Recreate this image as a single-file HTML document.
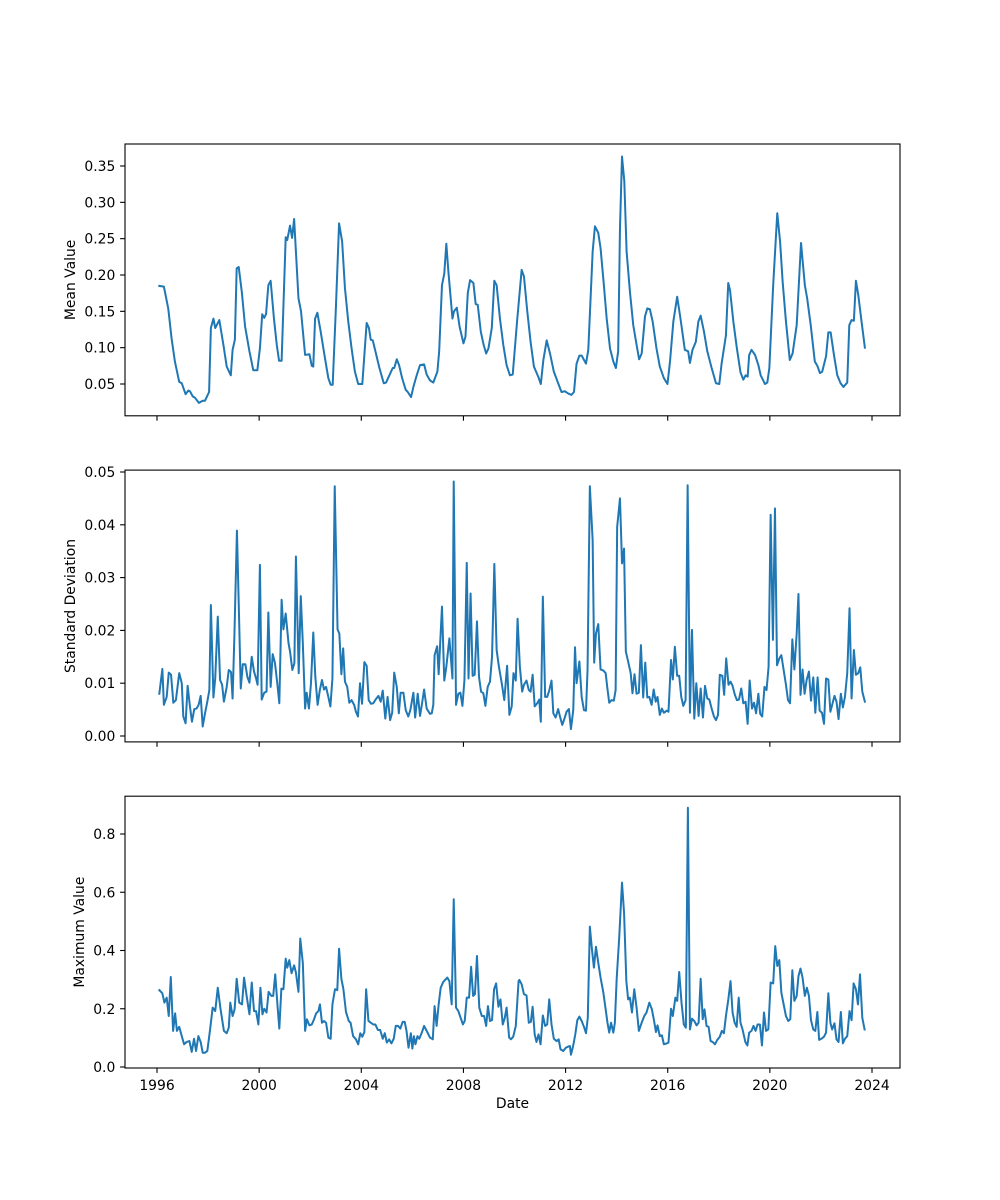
<!DOCTYPE html>
<html><head><meta charset="utf-8"><style>
body{margin:0;background:#fff}
svg{display:block;font-family:"DejaVu Sans","Liberation Sans",sans-serif}
</style></head><body>
<svg id="fig" width="1000" height="1200" viewBox="0 0 1000 1200"></svg>
<script>
const xTickYears=[1996,2000,2004,2008,2012,2016,2020,2024];
const meanTicks=[0.05,0.10,0.15,0.20,0.25,0.30,0.35];
const stdTicks=[0.00,0.01,0.02,0.03,0.04,0.05];
const maxTicks=[0.0,0.2,0.4,0.6,0.8];

const meanDates=[1996.09,1996.27,1996.44,1996.57,1996.7,1996.87,1996.97,1997.12,1997.23,1997.29,1997.4,1997.49,1997.64,1997.79,1997.88,1998.04,1998.11,1998.21,1998.28,1998.44,1998.6,1998.73,1998.89,1998.96,1999.05,1999.12,1999.2,1999.32,1999.45,1999.62,1999.77,1999.93,2000.03,2000.12,2000.2,2000.27,2000.36,2000.45,2000.58,2000.69,2000.78,2000.88,2001.04,2001.1,2001.21,2001.29,2001.37,2001.54,2001.64,2001.8,2001.97,2002.06,2002.12,2002.19,2002.28,2002.41,2002.58,2002.71,2002.8,2002.88,2003.01,2003.13,2003.25,2003.36,2003.49,2003.62,2003.75,2003.88,2004.04,2004.21,2004.3,2004.37,2004.45,2004.54,2004.71,2004.88,2004.97,2005.1,2005.23,2005.29,2005.39,2005.48,2005.6,2005.74,2005.82,2005.95,2006.04,2006.17,2006.3,2006.46,2006.56,2006.69,2006.82,2006.98,2007.05,2007.16,2007.25,2007.33,2007.41,2007.57,2007.63,2007.74,2007.85,2008.0,2008.08,2008.17,2008.26,2008.39,2008.48,2008.56,2008.68,2008.79,2008.89,2008.98,2009.11,2009.21,2009.3,2009.43,2009.56,2009.69,2009.82,2009.93,2010.11,2010.28,2010.37,2010.5,2010.63,2010.76,2010.93,2011.03,2011.13,2011.26,2011.39,2011.54,2011.71,2011.84,2011.97,2012.1,2012.23,2012.33,2012.43,2012.54,2012.63,2012.8,2012.89,2013.06,2013.15,2013.28,2013.37,2013.5,2013.61,2013.74,2013.87,2013.97,2014.06,2014.13,2014.21,2014.3,2014.39,2014.52,2014.65,2014.78,2014.88,2014.98,2015.11,2015.2,2015.3,2015.41,2015.56,2015.69,2015.85,2015.99,2016.09,2016.22,2016.37,2016.5,2016.67,2016.8,2016.87,2016.97,2017.1,2017.2,2017.29,2017.42,2017.55,2017.72,2017.89,2018.02,2018.11,2018.28,2018.37,2018.44,2018.57,2018.7,2018.85,2018.96,2019.05,2019.13,2019.19,2019.28,2019.42,2019.55,2019.64,2019.81,2019.9,2019.98,2020.13,2020.29,2020.4,2020.5,2020.63,2020.78,2020.89,2021.05,2021.22,2021.37,2021.46,2021.6,2021.76,2021.86,2021.96,2022.05,2022.2,2022.29,2022.38,2022.51,2022.64,2022.77,2022.88,2023.03,2023.11,2023.2,2023.29,2023.37,2023.46,2023.59,2023.72];
const meanValues=[0.185,0.184,0.154,0.113,0.081,0.053,0.051,0.036,0.041,0.040,0.033,0.031,0.024,0.027,0.027,0.039,0.127,0.140,0.127,0.138,0.104,0.074,0.062,0.097,0.111,0.209,0.211,0.177,0.129,0.095,0.069,0.069,0.099,0.146,0.141,0.146,0.186,0.192,0.140,0.104,0.082,0.082,0.252,0.248,0.268,0.251,0.277,0.168,0.150,0.090,0.091,0.075,0.074,0.140,0.148,0.122,0.085,0.058,0.049,0.049,0.159,0.271,0.246,0.182,0.136,0.099,0.067,0.050,0.050,0.134,0.127,0.111,0.110,0.097,0.072,0.051,0.052,0.062,0.072,0.072,0.084,0.076,0.058,0.042,0.039,0.032,0.046,0.062,0.076,0.077,0.063,0.055,0.052,0.067,0.095,0.186,0.202,0.243,0.205,0.140,0.150,0.155,0.129,0.106,0.115,0.175,0.193,0.189,0.160,0.159,0.122,0.104,0.092,0.099,0.127,0.192,0.186,0.140,0.104,0.076,0.062,0.063,0.140,0.207,0.198,0.150,0.108,0.074,0.060,0.050,0.083,0.110,0.092,0.067,0.051,0.039,0.040,0.037,0.035,0.039,0.078,0.089,0.089,0.078,0.097,0.232,0.267,0.258,0.237,0.186,0.140,0.099,0.081,0.072,0.095,0.264,0.363,0.329,0.232,0.177,0.131,0.104,0.084,0.092,0.143,0.154,0.153,0.136,0.099,0.074,0.058,0.050,0.081,0.136,0.170,0.140,0.097,0.095,0.079,0.097,0.108,0.136,0.144,0.122,0.095,0.072,0.051,0.050,0.078,0.117,0.189,0.179,0.136,0.101,0.066,0.056,0.062,0.060,0.090,0.097,0.090,0.076,0.062,0.050,0.052,0.072,0.186,0.285,0.246,0.191,0.136,0.083,0.092,0.131,0.244,0.186,0.168,0.131,0.081,0.075,0.065,0.067,0.088,0.121,0.121,0.090,0.062,0.051,0.046,0.052,0.131,0.138,0.137,0.192,0.173,0.136,0.100];

const stdDates=[1996.09,1996.21,1996.27,1996.38,1996.46,1996.55,1996.64,1996.74,1996.87,1996.97,1997.03,1997.12,1997.2,1997.29,1997.37,1997.46,1997.55,1997.63,1997.71,1997.79,1997.88,1997.97,1998.05,1998.11,1998.21,1998.28,1998.38,1998.47,1998.55,1998.62,1998.73,1998.81,1998.9,1998.96,1999.03,1999.13,1999.2,1999.28,1999.36,1999.46,1999.54,1999.62,1999.71,1999.8,1999.88,1999.94,2000.03,2000.1,2000.2,2000.29,2000.36,2000.45,2000.53,2000.62,2000.71,2000.79,2000.88,2000.95,2001.04,2001.15,2001.21,2001.3,2001.38,2001.44,2001.55,2001.63,2001.71,2001.8,2001.86,2001.95,2002.03,2002.12,2002.2,2002.29,2002.38,2002.46,2002.54,2002.62,2002.71,2002.79,2002.87,2002.96,2003.07,2003.14,2003.22,2003.29,2003.36,2003.45,2003.53,2003.62,2003.72,2003.79,2003.87,2003.95,2004.03,2004.12,2004.21,2004.29,2004.38,2004.47,2004.56,2004.67,2004.76,2004.84,2004.94,2005.03,2005.13,2005.21,2005.29,2005.39,2005.47,2005.54,2005.65,2005.74,2005.84,2005.92,2006.04,2006.11,2006.21,2006.3,2006.38,2006.46,2006.56,2006.69,2006.76,2006.82,2006.87,2006.97,2007.03,2007.16,2007.25,2007.33,2007.45,2007.57,2007.62,2007.71,2007.8,2007.88,2007.96,2008.04,2008.13,2008.2,2008.28,2008.36,2008.44,2008.53,2008.61,2008.69,2008.78,2008.86,2008.95,2009.04,2009.12,2009.21,2009.3,2009.39,2009.5,2009.6,2009.71,2009.8,2009.89,2009.96,2010.05,2010.12,2010.21,2010.3,2010.37,2010.47,2010.56,2010.63,2010.71,2010.79,2010.89,2010.97,2011.03,2011.11,2011.2,2011.28,2011.36,2011.45,2011.52,2011.61,2011.71,2011.78,2011.87,2011.95,2012.04,2012.13,2012.21,2012.3,2012.37,2012.43,2012.54,2012.63,2012.72,2012.8,2012.86,2012.95,2013.06,2013.12,2013.19,2013.28,2013.37,2013.48,2013.57,2013.63,2013.71,2013.8,2013.89,2013.96,2014.02,2014.13,2014.21,2014.29,2014.36,2014.45,2014.55,2014.62,2014.7,2014.78,2014.87,2014.95,2015.04,2015.12,2015.2,2015.28,2015.37,2015.45,2015.53,2015.6,2015.69,2015.77,2015.85,2015.96,2016.03,2016.13,2016.2,2016.28,2016.37,2016.45,2016.53,2016.61,2016.7,2016.78,2016.87,2016.95,2017.04,2017.12,2017.21,2017.29,2017.38,2017.46,2017.55,2017.63,2017.72,2017.81,2017.89,2017.97,2018.04,2018.14,2018.21,2018.29,2018.38,2018.46,2018.54,2018.63,2018.71,2018.79,2018.88,2018.96,2019.05,2019.13,2019.21,2019.3,2019.38,2019.46,2019.55,2019.62,2019.7,2019.79,2019.87,2019.95,2020.03,2020.12,2020.2,2020.28,2020.37,2020.45,2020.54,2020.63,2020.71,2020.79,2020.88,2020.96,2021.05,2021.12,2021.2,2021.28,2021.36,2021.44,2021.53,2021.61,2021.7,2021.78,2021.87,2021.95,2022.04,2022.12,2022.2,2022.29,2022.37,2022.44,2022.53,2022.61,2022.69,2022.78,2022.86,2022.94,2023.03,2023.12,2023.2,2023.29,2023.37,2023.46,2023.54,2023.62,2023.72];
const stdValues=[0.0080,0.0127,0.0059,0.0074,0.0120,0.0116,0.0063,0.0068,0.0119,0.0100,0.0037,0.0024,0.0095,0.0056,0.0027,0.0051,0.0052,0.0059,0.0076,0.0018,0.0043,0.0065,0.0087,0.0248,0.0073,0.0109,0.0226,0.0106,0.0097,0.0065,0.0093,0.0125,0.0121,0.0071,0.0188,0.0389,0.0251,0.0090,0.0136,0.0136,0.0112,0.0101,0.0150,0.0122,0.0109,0.0097,0.0324,0.0069,0.0082,0.0084,0.0234,0.0093,0.0155,0.0138,0.0100,0.0062,0.0258,0.0202,0.0232,0.0176,0.0160,0.0125,0.0138,0.0340,0.0119,0.0265,0.0176,0.0052,0.0082,0.0052,0.0100,0.0196,0.0112,0.0059,0.0088,0.0106,0.0088,0.0093,0.0074,0.0056,0.0109,0.0473,0.0202,0.0194,0.0117,0.0166,0.0103,0.0093,0.0063,0.0068,0.0059,0.0046,0.0037,0.0100,0.0061,0.0140,0.0133,0.0068,0.0061,0.0062,0.0069,0.0076,0.0065,0.0086,0.0033,0.0074,0.0030,0.0044,0.0120,0.0093,0.0043,0.0082,0.0082,0.0049,0.0037,0.0049,0.0082,0.0035,0.0080,0.0038,0.0062,0.0088,0.0052,0.0042,0.0043,0.0059,0.0153,0.0170,0.0117,0.0245,0.0105,0.0131,0.0185,0.0109,0.0482,0.0059,0.0080,0.0082,0.0057,0.0106,0.0328,0.0109,0.0270,0.0114,0.0116,0.0217,0.0112,0.0084,0.0081,0.0057,0.0093,0.0103,0.0150,0.0326,0.0163,0.0131,0.0100,0.0068,0.0133,0.0040,0.0056,0.0119,0.0105,0.0222,0.0131,0.0084,0.0097,0.0105,0.0087,0.0084,0.0116,0.0056,0.0062,0.0069,0.0027,0.0264,0.0074,0.0074,0.0086,0.0105,0.0043,0.0035,0.0051,0.0037,0.0021,0.0032,0.0046,0.0051,0.0013,0.0049,0.0168,0.0100,0.0141,0.0074,0.0049,0.0048,0.0125,0.0473,0.0371,0.0139,0.0194,0.0212,0.0126,0.0124,0.0119,0.0093,0.0063,0.0068,0.0067,0.0087,0.0396,0.0450,0.0327,0.0355,0.0160,0.0141,0.0119,0.0081,0.0117,0.0080,0.0082,0.0172,0.0073,0.0139,0.0073,0.0074,0.0059,0.0088,0.0065,0.0074,0.0040,0.0052,0.0044,0.0048,0.0046,0.0144,0.0107,0.0169,0.0114,0.0114,0.0074,0.0057,0.0068,0.0475,0.0044,0.0201,0.0033,0.0100,0.0038,0.0090,0.0035,0.0095,0.0071,0.0069,0.0052,0.0037,0.0030,0.0040,0.0116,0.0114,0.0078,0.0147,0.0097,0.0103,0.0095,0.0078,0.0068,0.0069,0.0090,0.0062,0.0065,0.0023,0.0105,0.0052,0.0063,0.0043,0.0080,0.0042,0.0037,0.0093,0.0087,0.0131,0.0419,0.0182,0.0431,0.0134,0.0147,0.0153,0.0125,0.0097,0.0068,0.0062,0.0183,0.0126,0.0194,0.0269,0.0078,0.0126,0.0080,0.0106,0.0122,0.0067,0.0111,0.0044,0.0111,0.0048,0.0044,0.0023,0.0109,0.0107,0.0046,0.0059,0.0076,0.0065,0.0032,0.0080,0.0054,0.0074,0.0119,0.0242,0.0071,0.0163,0.0116,0.0119,0.0130,0.0084,0.0065];

const maxDates=[1996.09,1996.21,1996.29,1996.38,1996.46,1996.54,1996.63,1996.71,1996.78,1996.87,1996.97,1997.06,1997.16,1997.27,1997.36,1997.45,1997.53,1997.62,1997.71,1997.79,1997.88,1997.97,1998.08,1998.18,1998.28,1998.38,1998.49,1998.62,1998.73,1998.81,1998.87,1998.96,1999.04,1999.12,1999.22,1999.33,1999.41,1999.51,1999.62,1999.71,1999.8,1999.88,1999.97,2000.05,2000.13,2000.2,2000.29,2000.37,2000.48,2000.55,2000.63,2000.73,2000.79,2000.87,2000.95,2001.04,2001.1,2001.18,2001.27,2001.37,2001.44,2001.54,2001.61,2001.71,2001.8,2001.87,2001.97,2002.06,2002.15,2002.23,2002.32,2002.38,2002.46,2002.54,2002.62,2002.71,2002.8,2002.87,2002.97,2003.06,2003.13,2003.22,2003.3,2003.4,2003.51,2003.58,2003.68,2003.79,2003.88,2003.96,2004.04,2004.12,2004.19,2004.28,2004.37,2004.47,2004.55,2004.65,2004.74,2004.84,2004.92,2005.0,2005.09,2005.18,2005.27,2005.35,2005.44,2005.53,2005.62,2005.7,2005.77,2005.85,2005.94,2006.0,2006.06,2006.12,2006.2,2006.27,2006.37,2006.46,2006.56,2006.69,2006.8,2006.87,2006.95,2007.03,2007.11,2007.21,2007.37,2007.45,2007.54,2007.62,2007.71,2007.8,2007.89,2007.98,2008.05,2008.13,2008.22,2008.3,2008.38,2008.45,2008.53,2008.62,2008.72,2008.81,2008.89,2008.96,2009.04,2009.12,2009.2,2009.28,2009.37,2009.45,2009.54,2009.62,2009.69,2009.79,2009.86,2009.95,2010.05,2010.16,2010.19,2010.28,2010.37,2010.47,2010.56,2010.64,2010.71,2010.79,2010.86,2010.94,2011.02,2011.11,2011.2,2011.28,2011.36,2011.45,2011.54,2011.65,2011.73,2011.8,2011.91,2012.01,2012.1,2012.17,2012.21,2012.3,2012.38,2012.46,2012.54,2012.63,2012.72,2012.8,2012.87,2012.95,2013.03,2013.11,2013.19,2013.28,2013.37,2013.48,2013.57,2013.64,2013.71,2013.78,2013.87,2013.93,2014.0,2014.1,2014.21,2014.29,2014.38,2014.45,2014.52,2014.6,2014.69,2014.78,2014.87,2014.98,2015.08,2015.17,2015.28,2015.38,2015.46,2015.54,2015.6,2015.69,2015.77,2015.85,2015.96,2016.03,2016.13,2016.2,2016.3,2016.37,2016.45,2016.54,2016.63,2016.71,2016.79,2016.87,2016.95,2017.04,2017.13,2017.21,2017.29,2017.37,2017.44,2017.52,2017.6,2017.68,2017.76,2017.85,2017.94,2018.04,2018.12,2018.2,2018.28,2018.37,2018.46,2018.54,2018.62,2018.7,2018.78,2018.85,2018.93,2019.04,2019.12,2019.19,2019.28,2019.36,2019.44,2019.52,2019.61,2019.69,2019.77,2019.85,2019.94,2020.03,2020.13,2020.21,2020.29,2020.37,2020.45,2020.54,2020.63,2020.72,2020.8,2020.88,2020.96,2021.05,2021.12,2021.2,2021.28,2021.37,2021.45,2021.53,2021.61,2021.7,2021.78,2021.86,2021.93,2022.02,2022.12,2022.2,2022.29,2022.37,2022.44,2022.53,2022.61,2022.69,2022.78,2022.86,2022.94,2023.03,2023.12,2023.2,2023.28,2023.37,2023.45,2023.53,2023.62,2023.71];
const maxValues=[0.264,0.253,0.221,0.238,0.175,0.309,0.124,0.184,0.124,0.138,0.106,0.078,0.086,0.089,0.052,0.097,0.055,0.106,0.086,0.049,0.049,0.055,0.129,0.204,0.192,0.272,0.198,0.124,0.116,0.135,0.221,0.175,0.198,0.303,0.221,0.215,0.307,0.244,0.181,0.290,0.192,0.192,0.146,0.272,0.181,0.200,0.187,0.258,0.244,0.244,0.318,0.198,0.132,0.269,0.267,0.372,0.341,0.367,0.322,0.349,0.324,0.258,0.441,0.358,0.124,0.164,0.143,0.146,0.164,0.184,0.192,0.215,0.152,0.158,0.152,0.101,0.097,0.215,0.267,0.264,0.406,0.303,0.267,0.189,0.158,0.152,0.106,0.095,0.078,0.116,0.104,0.120,0.267,0.158,0.152,0.146,0.146,0.127,0.127,0.097,0.116,0.084,0.095,0.081,0.097,0.141,0.141,0.132,0.155,0.155,0.124,0.066,0.116,0.063,0.106,0.078,0.106,0.097,0.118,0.141,0.124,0.101,0.095,0.209,0.141,0.215,0.272,0.292,0.307,0.295,0.215,0.576,0.204,0.192,0.169,0.146,0.158,0.238,0.238,0.344,0.244,0.250,0.381,0.204,0.175,0.175,0.141,0.209,0.158,0.161,0.267,0.287,0.207,0.232,0.146,0.169,0.204,0.101,0.095,0.104,0.141,0.295,0.299,0.284,0.250,0.246,0.152,0.155,0.207,0.112,0.086,0.112,0.078,0.177,0.141,0.146,0.232,0.146,0.097,0.089,0.095,0.061,0.055,0.066,0.070,0.072,0.042,0.074,0.112,0.161,0.173,0.158,0.138,0.116,0.169,0.482,0.406,0.341,0.413,0.358,0.307,0.255,0.198,0.152,0.118,0.152,0.118,0.152,0.301,0.444,0.633,0.530,0.295,0.232,0.238,0.187,0.267,0.204,0.124,0.152,0.175,0.187,0.221,0.198,0.161,0.120,0.143,0.106,0.109,0.078,0.081,0.084,0.200,0.175,0.238,0.227,0.326,0.221,0.146,0.135,0.890,0.129,0.166,0.158,0.143,0.152,0.303,0.164,0.198,0.141,0.138,0.089,0.086,0.078,0.093,0.104,0.124,0.116,0.175,0.230,0.295,0.187,0.152,0.138,0.238,0.152,0.129,0.086,0.074,0.118,0.124,0.141,0.124,0.146,0.146,0.074,0.187,0.124,0.129,0.290,0.287,0.415,0.347,0.367,0.255,0.215,0.175,0.158,0.164,0.332,0.227,0.244,0.312,0.338,0.307,0.244,0.272,0.244,0.161,0.129,0.124,0.189,0.093,0.097,0.104,0.118,0.253,0.152,0.129,0.150,0.095,0.086,0.189,0.081,0.097,0.106,0.192,0.161,0.287,0.267,0.215,0.318,0.169,0.129];

const NS='http://www.w3.org/2000/svg';
const svg=document.getElementById('fig');
const L=125,R=900;
const FS=13.9;
const xScale=yr=>157+(yr-1996)*25.536;
function mk(tag,attrs,parent){const e=document.createElementNS(NS,tag);for(const k in attrs)e.setAttribute(k,attrs[k]);(parent||svg).appendChild(e);return e;}

const panels=[
 {name:'mean',top:144,bot:415.8,dates:meanDates,vals:meanValues,ticks:meanTicks,fmt:v=>v.toFixed(2),y:v=>384-(v-0.05)*726.7,label:'Mean Value',lx:75},
 {name:'std',top:470.1,bot:741.9,dates:stdDates,vals:stdValues,ticks:stdTicks,fmt:v=>v.toFixed(2),y:v=>736-v*5280,label:'Standard Deviation',lx:75},
 {name:'max',top:796.2,bot:1068,dates:maxDates,vals:maxValues,ticks:maxTicks,fmt:v=>v.toFixed(1),y:v=>1067-v*291.25,label:'Maximum Value',lx:84}
];

panels.forEach((p,i)=>{
  const g=mk('g',{});
  
  
  let d='';
  p.dates.forEach((yr,k)=>{d+=(k?'L':'M')+xScale(yr).toFixed(2)+' '+p.y(p.vals[k]).toFixed(2);});
  const line=mk('path',{d:d,fill:'none',stroke:'#1f77b4','stroke-width':2,'stroke-linejoin':'round','stroke-linecap':'square'},g);
  
  
  const fr=mk('rect',{x:L,y:p.top,width:R-L,height:p.bot-p.top,fill:'none',stroke:'#000','stroke-width':1.1},g);
  
  
  p.ticks.forEach(v=>{
    const yy=p.y(v);
    mk('line',{x1:L-4.9,x2:L,y1:yy,y2:yy,stroke:'#000','stroke-width':1.1},g);
    const t=mk('text',{x:L-9.7,y:yy+5,'font-size':FS,'text-anchor':'end',fill:'#000'},g);
    t.textContent=p.fmt(v);
    
    
  });
  xTickYears.forEach(yr=>{
    const xx=xScale(yr);
    mk('line',{x1:xx,x2:xx,y1:p.bot,y2:p.bot+4.9,stroke:'#000','stroke-width':1.1},g);
    if(i===2){
      const t=mk('text',{x:xx,y:p.bot+22,'font-size':FS,'text-anchor':'middle',fill:'#000'},g);
      t.textContent=String(yr);
      
      
    }
  });
  const cy=(p.top+p.bot)/2;
  const yl=mk('text',{x:p.lx,y:cy,'font-size':FS,'text-anchor':'middle',transform:'rotate(-90 '+p.lx+' '+cy+')',fill:'#000'},g);
  yl.textContent=p.label;
  
  
});
const xl=mk('text',{x:512.5,y:1108,'font-size':FS,'text-anchor':'middle',fill:'#000'});
xl.textContent='Date';


</script>
</body></html>
